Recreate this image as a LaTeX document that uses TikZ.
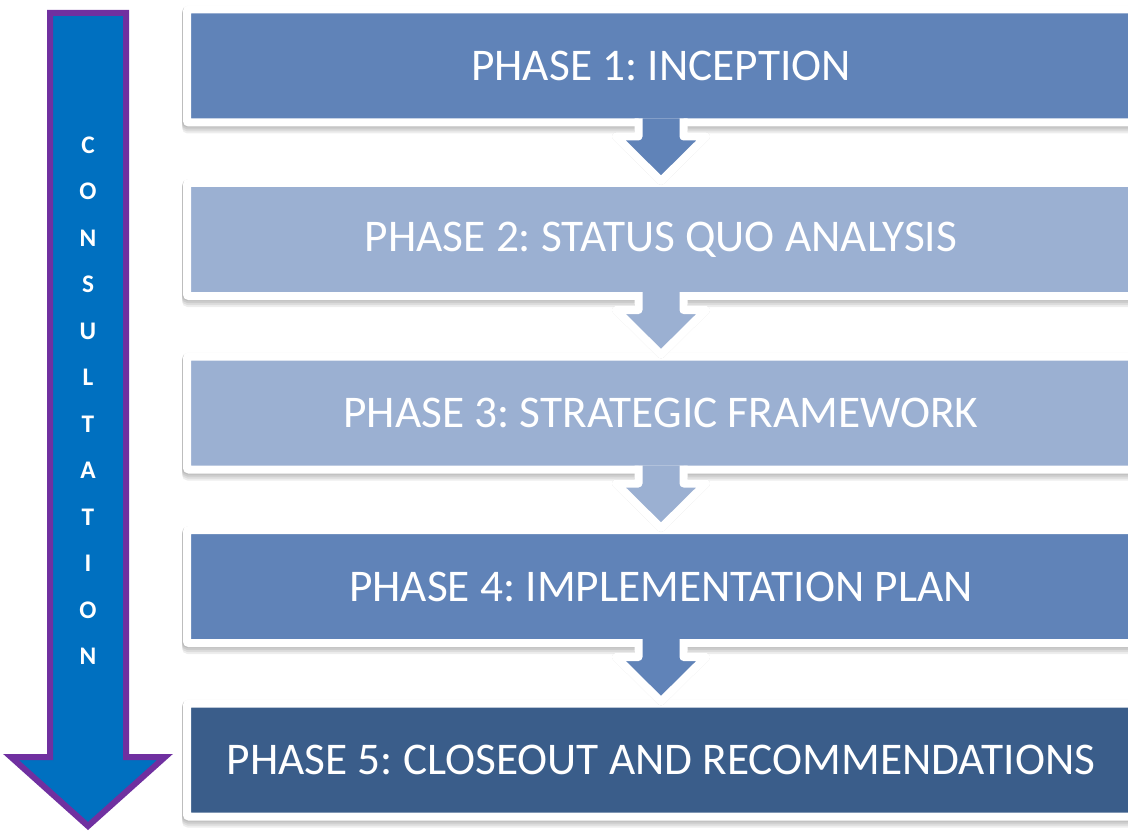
\documentclass[tikz,border=0pt]{standalone}
\usepackage{fontspec}
\setmainfont{Carlito}
\frenchspacing
\usetikzlibrary{calc,backgrounds}

\definecolor{phaseA}{HTML}{6083B8}
\definecolor{phaseB}{HTML}{9BB0D2}
\definecolor{phaseC}{HTML}{3A5D8A}
\definecolor{consultFill}{HTML}{0070C0}
\definecolor{consultEdge}{HTML}{7030A0}

\tikzset{
  phasebox/.style={
    rectangle, rounded corners=1.5pt, draw=white, line width=6pt, outer sep=0pt,
    minimum width=711pt, minimum height=84.75pt, inner sep=0pt,
    text=white, font=\fontsize{34}{40}\selectfont
  },
  softshade/.style={fill=black, opacity=0.07, rounded corners=4pt},
  letter/.style={text=white, font=\fontsize{19}{22}\selectfont\bfseries, inner sep=0pt},
  chevronfill/.style={line join=round},
  chevronline/.style={draw=white, line width=6pt, line join=round, line cap=butt},
  chevronshade/.style={draw=black, opacity=0.14, line width=6pt, line join=round, line cap=butt}
}

\begin{document}
\begin{tikzpicture}[x=0.75pt, y=-0.75pt]
  \useasboundingbox (0,0) rectangle (1128,831);
  \clip (0,0) rectangle (1128,831);

  % the five phases
  \node[phasebox, fill=phaseA] (p1) at (661,66)    {PHASE 1: INCEPTION};
  \node[phasebox, fill=phaseB] (p2) at (661,239.5) {PHASE 2: STATUS QUO ANALYSIS};
  \node[phasebox, fill=phaseB] (p3) at (661,413)   {PHASE 3: STRATEGIC FRAMEWORK};
  \node[phasebox, fill=phaseA] (p4) at (661,586.5) {PHASE 4: IMPLEMENTATION PLAN};
  \node[phasebox, fill=phaseC] (p5) at (661,760)   {PHASE 5: CLOSEOUT AND RECOMMENDATIONS};

  % page and soft shadows under the framed phases
  \begin{scope}[on background layer]
    \fill[white] (0,0) rectangle (1128,831);
    \foreach \p in {p1,p2,p3,p4,p5}
      \foreach \d in {1,3,5,7}
        \fill[softshade] ($(\p.north west)+(-5,{-4+\d*0.4})$) rectangle ($(\p.south east)+(5,{4+\d})$);
  \end{scope}

  % block arrows leading from one phase to the next
  \foreach \a/\b/\c in {p1/p2/phaseA, p2/p3/phaseB, p3/p4/phaseB, p4/p5/phaseA} {
    \draw[chevronshade, shift={(1.5,4)}]
      ($(\a.south)+(-22.5,8)$) -- ($(\a.south)+(-22.5,14)$) -- ($(\a.south)+(-45,14)$)
      -- ($(\b.north)+(0,-2)$) -- ($(\a.south)+(45,14)$) -- ($(\a.south)+(22.5,14)$)
      -- ($(\a.south)+(22.5,8)$);
    \fill[\c, chevronfill]
      ($(\a.south)+(-22.5,-4)$) -- ($(\a.south)+(-22.5,14)$) -- ($(\a.south)+(-45,14)$)
      -- ($(\b.north)+(0,-2)$) -- ($(\a.south)+(45,14)$) -- ($(\a.south)+(22.5,14)$)
      -- ($(\a.south)+(22.5,-4)$) -- cycle;
    \draw[chevronline]
      ($(\a.south)+(-22.5,-4)$) -- ($(\a.south)+(-22.5,14)$) -- ($(\a.south)+(-45,14)$)
      -- ($(\b.north)+(0,-2)$) -- ($(\a.south)+(45,14)$) -- ($(\a.south)+(22.5,14)$)
      -- ($(\a.south)+(22.5,-4)$);
  }

  % consultation arrow running along the whole process
  \draw[fill=consultFill, draw=consultEdge, line width=4.5pt, miter limit=4]
    (50,13) -- (126,13) -- (126,757) -- (165,757) -- (88,826)
    -- (11,757) -- (50,757) -- cycle;
  \foreach \ch [count=\i from 0] in {C,O,N,S,U,L,T,A,T,I,O,N}
    \node[letter] (c\i) at (88,{145+46.5*\i}) {\ch};
\end{tikzpicture}
\end{document}
